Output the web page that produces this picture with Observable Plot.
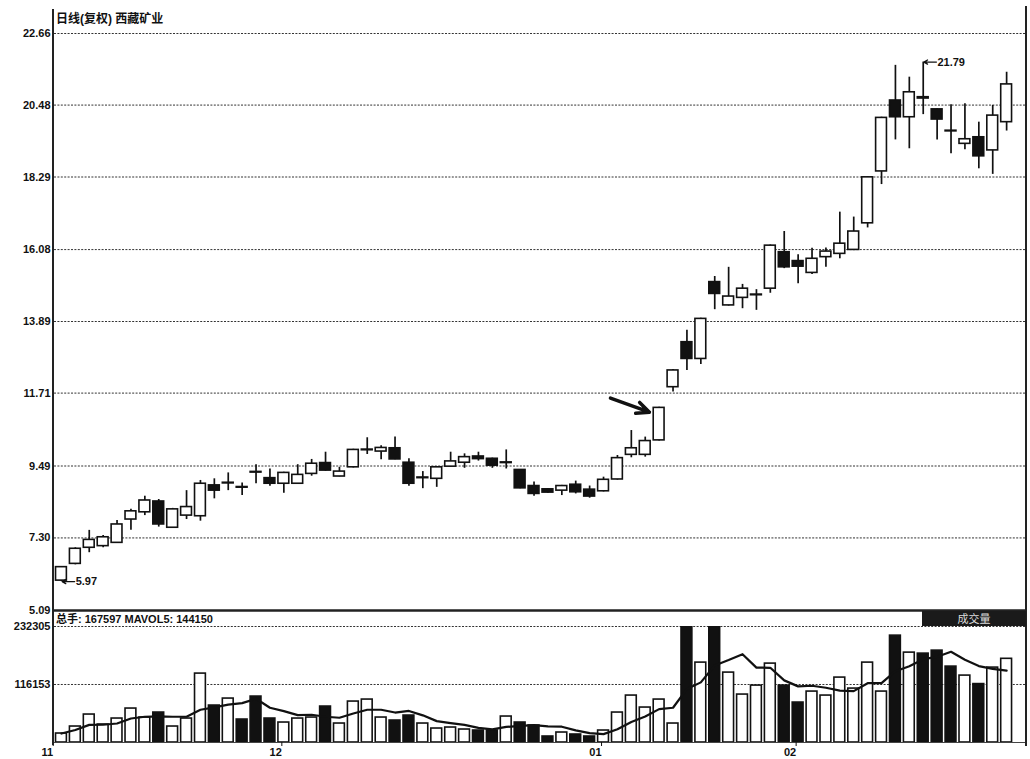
<!DOCTYPE html>
<html>
<head>
<meta charset="utf-8">
<script src="https://cdn.jsdelivr.net/npm/d3@7"></script>
<script src="https://cdn.jsdelivr.net/npm/@observablehq/plot@0.6"></script>
<style>
  body { margin: 0; background: #fff; }
  #wrap { position: relative; width: 1030px; height: 759px; overflow: hidden; background: #fff;
          font-family: "Liberation Sans", Arial, "Noto Sans CJK SC", sans-serif; color: #111; }
  #wrap svg { position: absolute; left: 0; overflow: visible; }
  .hdr { position: absolute; font-weight: bold; white-space: nowrap; font-family: "Liberation Sans", Arial, "Noto Sans CJK SC", sans-serif; }
  .vline { position: absolute; background: #222; }
  #volTag { position: absolute; left: 922px; top: 611px; width: 104px; height: 15px; background: #1a1a1a;
            color: #ddd; font-size: 11px; line-height: 15px; text-align: center; font-family: "Noto Sans CJK SC", sans-serif; }
</style>
</head>
<body>
<div id="wrap"></div>
<script>
// ---- data ----
const openP  = [6.00,6.51,7.00,7.05,7.15,7.86,8.08,8.41,7.61,7.98, 7.96,8.90,8.96,8.85,9.31,9.12,8.95,8.95,9.25,9.58, 9.17,9.45,9.97,9.93,10.03,9.59,9.12,9.10,9.47,9.59, 9.78,9.71,9.58,9.37,8.88,8.78,8.74,8.92,8.77,8.72, 9.08,9.83,9.83,10.27,11.89,13.26,12.75,15.09,14.38,14.61, 14.69,14.89,16.00,15.73,15.37,15.85,15.95,16.07,16.88,18.46, 20.62,20.11,20.72,20.35,19.70,19.30,19.50,19.10,19.96];
const highP  = [6.43,7.00,7.53,7.37,7.83,8.17,8.57,8.47,8.20,8.74, 9.05,9.10,9.28,8.97,9.53,9.40,9.30,9.53,9.69,9.91, 9.45,10.00,10.35,10.11,10.37,9.71,9.32,9.47,9.91,9.86, 9.91,9.73,9.98,9.38,9.00,8.80,8.90,9.03,8.88,9.15, 9.81,10.57,10.37,11.28,12.43,13.62,13.99,15.26,15.54,15.02, 14.86,16.22,16.63,15.92,16.12,16.13,17.22,17.07,18.30,20.11, 21.69,21.33,21.79,20.37,20.49,20.52,19.96,20.47,21.48];
const lowP   = [5.97,6.48,6.85,7.00,7.13,7.53,7.98,7.63,7.60,7.86, 7.81,8.49,8.74,8.59,8.95,8.87,8.66,8.93,9.18,9.33, 9.16,9.43,9.84,9.68,9.68,8.87,8.80,8.84,9.45,9.42, 9.64,9.42,9.40,8.80,8.57,8.66,8.59,8.64,8.51,8.70, 9.06,9.74,9.76,10.25,11.74,12.40,12.58,14.25,14.36,14.28, 14.23,14.75,15.50,15.04,15.32,15.54,15.80,16.05,16.74,18.06, 19.42,19.15,20.19,19.42,19.00,19.12,18.54,18.37,19.69];
const closeP = [6.41,6.97,7.24,7.32,7.71,8.11,8.44,7.71,8.17,8.24, 8.95,8.74,8.98,8.83,9.29,8.95,9.28,9.22,9.56,9.35, 9.32,9.98,9.99,10.04,9.69,8.95,9.14,9.45,9.63,9.76, 9.70,9.50,9.60,8.81,8.64,8.68,8.88,8.69,8.56,9.07, 9.73,10.03,10.25,11.26,12.40,12.75,13.97,14.73,14.65,14.89, 14.71,16.20,15.54,15.56,15.80,16.02,16.26,16.63,18.28,20.09, 20.11,20.87,20.68,20.04,19.68,19.44,18.92,20.16,21.11];
const volume = [18000,32000,56000,36000,48000,68000,50000,60000,32000,48000, 138000,74000,88000,46000,92000,48000,40000,48000,50000,72000, 38000,82000,86000,50000,44000,54000,38000,28000,30000,26000, 24000,24000,52000,40000,34000,12000,20000,16000,12000,24000, 60000,94000,70000,86000,38000,248000,160000,240000,140000,96000, 114000,158000,114000,80000,102000,94000,130000,108000,160000,102000, 214000,180000,178000,184000,152000,134000,117000,150000,167597];

const priceTicks = [5.09, 7.30, 9.49, 11.71, 13.89, 16.08, 18.29, 20.48, 22.66];
const volTicks   = [116153, 232305];
const monthIdx   = [-0.45, 16, 39, 53];
const monthLbl   = ["11", "12", "01", "02"];
const extremes   = [{i: 62, v: 21.79, label: "21.79"}, {i: 0, v: 5.97, label: "5.97"}];
const arrowAnno  = [{x1: 39.5, y1: 11.56, x2: 42.3, y2: 11.13}];
const titleText  = "日线(复权)  西藏矿业";
const volHeader  = "总手: 167597 MAVOL5: 144150";
const volTagText = "成交量";

// ---- build ----
const data = openP.map((o, i) => ({i, open: o, high: highP[i], low: lowP[i], close: closeP[i], vol: volume[i]}));
const xDomain = [-0.5, 69.43];
const up = d => d.close >= d.open;
const font = "'Liberation Sans', Arial, sans-serif";
const dotted = {stroke: "#333", strokeWidth: 1, strokeDasharray: "2,1.4"};

const price = Plot.plot({
  width: 1030, height: 612,
  marginTop: 33, marginBottom: 2, marginLeft: 54, marginRight: 4,
  style: {fontFamily: font, fontSize: "11px", color: "#111", background: "transparent", overflow: "visible"},
  x: {domain: xDomain, axis: null, label: null},
  y: {domain: [5.09, 22.66], axis: null, label: null},
  marks: [
    Plot.ruleY(priceTicks.slice(1), dotted),
    Plot.axisY({ticks: priceTicks, tickSize: 0, tickPadding: 4, tickFormat: d => d.toFixed(2), fontWeight: "bold", label: null}),
    Plot.ruleX(data, {x: "i", y1: "low", y2: "high", stroke: "#111", strokeWidth: 1.7}),
    Plot.rect(data, {x1: d => d.i - 0.39, x2: d => d.i + 0.39, y1: "open", y2: "close",
                     fill: d => up(d) ? "#fff" : "#111", stroke: "#111", strokeWidth: 1.6}),
    Plot.arrow(extremes, {x1: d => d.i + 0.95, x2: d => d.i + 0.05, y1: "v", y2: "v", stroke: "#111", strokeWidth: 1.3, headLength: 5}),
    Plot.text(extremes, {x: d => d.i + 0.95, y: "v", text: "label", textAnchor: "start", dx: 1, fontWeight: "bold", fontSize: 11, fill: "#111"}),
    Plot.arrow(arrowAnno, {x1: "x1", y1: "y1", x2: "x2", y2: "y2", stroke: "#111", strokeWidth: 3.5, headLength: 13, headAngle: 50}),
    Plot.ruleY([5.09], {stroke: "#222", strokeWidth: 2.5})
  ]
});
price.style.top = "0px";

const vol = Plot.plot({
  width: 1030, height: 147,
  marginTop: 14, marginBottom: 17, marginLeft: 54, marginRight: 4,
  style: {fontFamily: font, fontSize: "11px", color: "#111", background: "transparent", overflow: "visible"},
  x: {domain: xDomain, label: null},
  y: {domain: [0, 232305], axis: null, label: null},
  marks: [
    Plot.ruleY(volTicks, dotted),
    Plot.axisY({ticks: volTicks, tickSize: 0, tickPadding: 4, tickFormat: d => String(d), fontWeight: "bold", label: null}),
    Plot.rect(data, {x1: d => d.i - 0.39, x2: d => d.i + 0.39, y1: 0, y2: "vol",
                     fill: d => up(d) ? "#fff" : "#111", stroke: "#111", strokeWidth: 1.6, clip: true}),
    Plot.lineY(data, Plot.windowY({k: 5, anchor: "end", strict: false},
                     {x: "i", y: "vol", stroke: "#111", strokeWidth: 2.2, curve: "linear", clip: true})),
    Plot.ruleY([0], {stroke: "#444", strokeWidth: 1}),
    Plot.axisX({ticks: monthIdx, tickSize: 4, tickPadding: 2, textAnchor: "end", dx: -2, label: null,
                tickFormat: d => monthLbl[monthIdx.indexOf(d)], fontWeight: "bold"})
  ]
});
vol.style.top = "612px";

const wrap = document.getElementById("wrap");
wrap.appendChild(price);
wrap.appendChild(vol);

function addDiv(cls, css, text) {
  const el = document.createElement("div");
  if (cls) el.className = cls;
  if (css) el.style.cssText = css;
  if (text) el.textContent = text;
  wrap.appendChild(el);
  return el;
}
addDiv("vline", "left:52px;top:9px;width:2px;height:736px;");
addDiv("vline", "left:1025px;top:6px;width:1.5px;height:740px;");
addDiv("hdr", "left:56px;top:9px;font-size:12px;", titleText);
addDiv("hdr", "left:56px;top:610px;font-size:11px;", volHeader);
const tag = addDiv("", "", volTagText); tag.id = "volTag";
</script>
</body>
</html>
